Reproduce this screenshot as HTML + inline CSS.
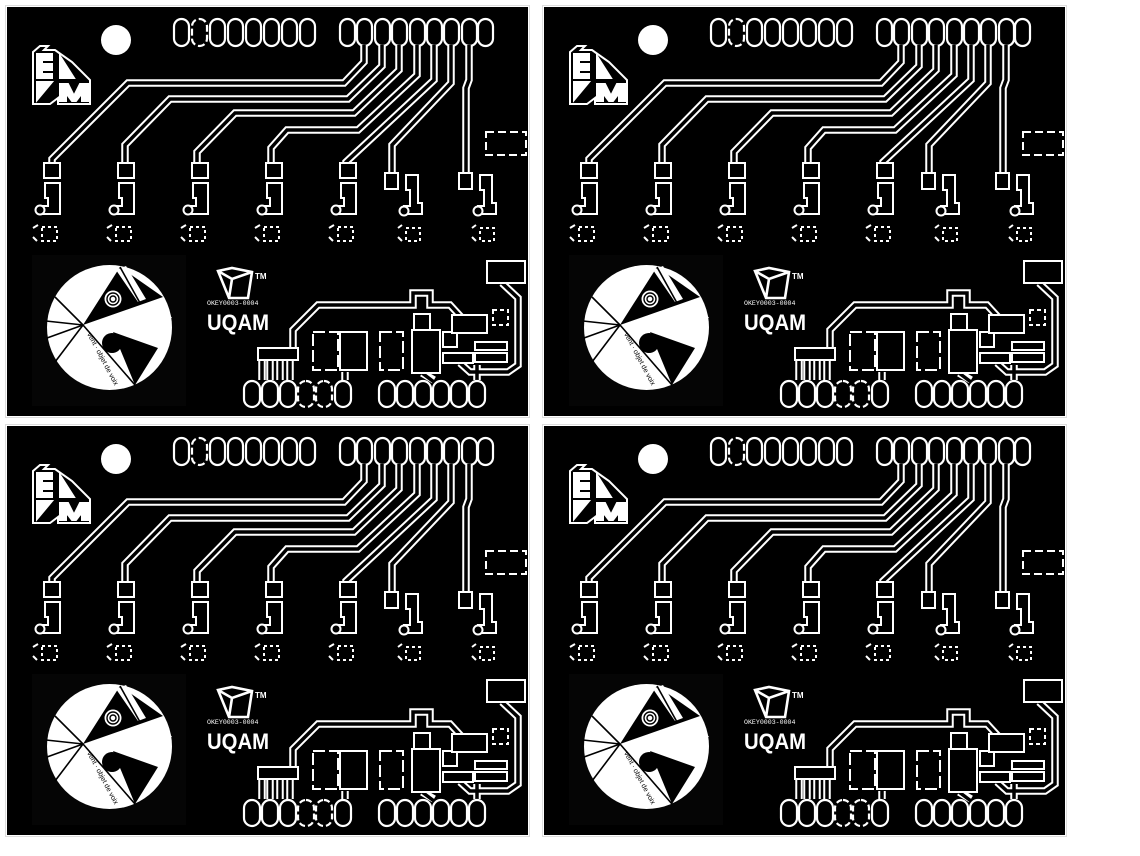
<!DOCTYPE html>
<html><head><meta charset="utf-8"><style>
html,body{margin:0;padding:0;background:#fff;}
svg{display:block;}
.t{font-family:"Liberation Sans",sans-serif;fill:#fff;}
</style></head><body>
<svg width="1140" height="856" viewBox="0 0 1140 856" xmlns="http://www.w3.org/2000/svg">
<defs>
<g id="P">
  <rect x="5.5" y="5.5" width="524" height="412" fill="none" stroke="#ddd" stroke-width="1"/>
  <rect x="7" y="7" width="521" height="409" fill="#000"/>
  <circle cx="116" cy="40" r="15" fill="#fff"/>
  <g fill="#000" stroke="#fff" stroke-width="2.2">
    <rect x="174" y="19" width="15" height="27" rx="7.5"/>
    <rect x="192" y="19" width="15" height="27" rx="7.5" stroke-dasharray="7 3"/>
    <rect x="210" y="19" width="15" height="27" rx="7.5"/>
    <rect x="228" y="19" width="15" height="27" rx="7.5"/>
    <rect x="246" y="19" width="15" height="27" rx="7.5"/>
    <rect x="264" y="19" width="15" height="27" rx="7.5"/>
    <rect x="282" y="19" width="15" height="27" rx="7.5"/>
    <rect x="300" y="19" width="15" height="27" rx="7.5"/>
    <rect x="340" y="19" width="15" height="27" rx="7.5"/>
    <rect x="357" y="19" width="15" height="27" rx="7.5"/>
    <rect x="375" y="19" width="15" height="27" rx="7.5"/>
    <rect x="392" y="19" width="15" height="27" rx="7.5"/>
    <rect x="410" y="19" width="15" height="27" rx="7.5"/>
    <rect x="427" y="19" width="15" height="27" rx="7.5"/>
    <rect x="444" y="19" width="15" height="27" rx="7.5"/>
    <rect x="462" y="19" width="15" height="27" rx="7.5"/>
    <rect x="478" y="19" width="15" height="27" rx="7.5"/>
  </g>
  <g fill="none" stroke-linejoin="miter">
    <g stroke="#fff" stroke-width="7.5">
      <path d="M364 45 V62 L344 83 H128 L52 159 V168"/>
      <path d="M382 45 V66 L348 99 H170 L125 145 V168"/>
      <path d="M399 45 V70 L354 113 H235 L197 152 V168"/>
      <path d="M417 45 V75 L358 130 H287 L271 148 V168"/>
      <path d="M434 45 V80 L346 162 V168"/>
      <path d="M451 45 V83 L392 145 V175"/>
      <path d="M469 45 V80 L466 88 V175"/>
      <path d="M293 352 V330 L318 305 H413 V293 H430 V305 H450 L462 318 H475"/>
      <path d="M502 283 L518 298 V365 L508 372 H470 L460 363"/>
      <path d="M262 360 V380 M270 360 V380 M280 360 V380 M290 360 V380"/>
      <path d="M345 372 V380 M422 373 L434 380 M477 365 V380"/>
    </g>
    <g stroke="#000" stroke-width="3.5">
      <path d="M364 45 V62 L344 83 H128 L52 159 V168"/>
      <path d="M382 45 V66 L348 99 H170 L125 145 V168"/>
      <path d="M399 45 V70 L354 113 H235 L197 152 V168"/>
      <path d="M417 45 V75 L358 130 H287 L271 148 V168"/>
      <path d="M434 45 V80 L346 162 V168"/>
      <path d="M451 45 V83 L392 145 V175"/>
      <path d="M469 45 V80 L466 88 V175"/>
      <path d="M293 352 V330 L318 305 H413 V293 H430 V305 H450 L462 318 H475"/>
      <path d="M502 283 L518 298 V365 L508 372 H470 L460 363"/>
      <path d="M262 360 V382 M270 360 V382 M280 360 V382 M290 360 V382"/>
      <path d="M345 370 V382 M422 373 L434 382 M477 363 V382"/>
    </g>
  </g>
  <g fill="#000" stroke="#fff" stroke-width="2">
    <g id="C">
      <rect x="44" y="163" width="16" height="15"/>
      <path d="M45 183 H60 V214 H42 L40 210 V206 H48 V198 H45 Z"/>
      <circle cx="40" cy="210" r="4.5"/>
      <rect x="42" y="227" width="15" height="14" stroke-dasharray="3 3"/>
      <path d="M33 228 L38 225 M33 237 L37 241"/>
    </g>
    <use href="#C" x="74"/>
    <use href="#C" x="148"/>
    <use href="#C" x="222"/>
    <use href="#C" x="296"/>
    <g id="D">
      <rect x="385" y="173" width="13" height="16"/>
      <path d="M406 175 H418 V203 H422 V214 H404 V206 H410 V190 H406 Z"/>
      <circle cx="404" cy="211" r="4.5"/>
      <rect x="406" y="228" width="14" height="13" stroke-dasharray="3 3"/>
      <path d="M398 228 L402 225 M398 237 L402 241"/>
    </g>
    <use href="#D" x="74"/>
    <rect x="486" y="132" width="40" height="23" stroke-dasharray="8 4"/>
    <rect x="487" y="261" width="38" height="22"/>
    <rect x="313" y="332" width="25" height="38" stroke-dasharray="12 4"/>
    <rect x="340" y="332" width="27" height="38"/>
    <rect x="380" y="332" width="23" height="38" stroke-dasharray="12 4"/>
    <rect x="412" y="330" width="28" height="43"/>
    <rect x="414" y="314" width="16" height="16"/>
    <rect x="443" y="332" width="14" height="15"/>
    <rect x="443" y="353" width="30" height="10"/>
    <rect x="452" y="315" width="35" height="18"/>
    <rect x="493" y="310" width="15" height="15" stroke-dasharray="4 3"/>
    <rect x="475" y="342" width="32" height="8"/>
    <rect x="475" y="353" width="32" height="9"/>
    <rect x="258" y="348" width="40" height="12"/>
  </g>
  <g fill="#000" stroke="#fff" stroke-width="2.2">
    <rect x="244" y="381" width="16" height="26" rx="8"/>
    <rect x="262" y="381" width="16" height="26" rx="8"/>
    <rect x="280" y="381" width="16" height="26" rx="8"/>
    <rect x="298" y="381" width="16" height="26" rx="8" stroke-dasharray="6 3"/>
    <rect x="316" y="381" width="16" height="26" rx="8" stroke-dasharray="6 3"/>
    <rect x="335" y="381" width="16" height="26" rx="8"/>
    <rect x="379" y="381" width="16" height="26" rx="8"/>
    <rect x="397" y="381" width="16" height="26" rx="8"/>
    <rect x="415" y="381" width="16" height="26" rx="8"/>
    <rect x="433" y="381" width="16" height="26" rx="8"/>
    <rect x="451" y="381" width="16" height="26" rx="8"/>
    <rect x="469" y="381" width="16" height="26" rx="8"/>
  </g>
  <g fill="none" stroke="#fff" stroke-width="2">
    <path d="M33 52 L40 46 H48 L44 50 H55 L72 62 L90 80 V104 H58 V98 L50 104 H33 Z"/>
    <path d="M37 54 H52 V60 H42 V64 H52 V70 H42 V74 H52 V78 H37 Z" fill="#fff"/>
    <path d="M60 56 L74 78 H60 Z" fill="#fff"/>
    <path d="M37 82 V100 L52 82 Z M60 84 H68 L74 96 L80 84 H88 V101 H82 V93 L76 101 H72 L66 93 V101 H60 Z" fill="#fff"/>
  </g>
  <rect x="32" y="255" width="154" height="151" fill="#050505"/>
  <circle cx="109.5" cy="327.5" r="62.5" fill="#fff"/>
  <polygon points="83,325 120,267 163,297" fill="#000"/>
  <polygon points="116,270 126,266 146,299 138,302" fill="#fff"/>
  <circle cx="113" cy="299" r="8.5" fill="#fff"/>
  <g fill="none" stroke="#000" stroke-width="1.4"><circle cx="113" cy="299" r="6"/><circle cx="113" cy="299" r="3"/></g>
  <polygon points="83,325 168,312 172,318 86,328" fill="#fff"/>
  <polygon points="113,332 158,348 135,385" fill="#000"/>
  <circle cx="112" cy="343" r="10" fill="#000"/>
  <g stroke="#000" stroke-width="1.6">
    <line x1="83" y1="325" x2="55" y2="297"/>
    <line x1="83" y1="325" x2="46" y2="321"/>
    <line x1="83" y1="325" x2="47" y2="338"/>
    <line x1="83" y1="325" x2="55" y2="362"/>
    <line x1="83" y1="325" x2="135" y2="385"/>
    <line x1="120" y1="267" x2="140" y2="303"/>
  </g>
  <g fill="none" stroke="#fff" stroke-width="2.6">
    <path d="M218 271 L232 268 L252 272 L248 298 H229 Z M218 271 L232 279 L252 272 M232 279 L229 298"/>
  </g>
</g>
</defs>
<use href="#P"/>
<use href="#P" x="537"/>
<use href="#P" y="419"/>
<use href="#P" x="537" y="419"/>
<g><text x="255" y="279" class="t" font-size="8" font-weight="bold">TM</text><text x="207" y="305" font-family="Liberation Mono,monospace" font-size="6.6" fill="#fff">OKEY0003-0004</text><text x="207" y="330" class="t" font-size="22" font-weight="bold" textLength="62" lengthAdjust="spacingAndGlyphs">UQAM</text><text font-family="Liberation Sans,sans-serif" font-size="7" fill="#000" transform="translate(87,334) rotate(62)">vent · objet de voix</text></g>
<g transform="translate(537,0)"><text x="255" y="279" class="t" font-size="8" font-weight="bold">TM</text><text x="207" y="305" font-family="Liberation Mono,monospace" font-size="6.6" fill="#fff">OKEY0003-0004</text><text x="207" y="330" class="t" font-size="22" font-weight="bold" textLength="62" lengthAdjust="spacingAndGlyphs">UQAM</text><text font-family="Liberation Sans,sans-serif" font-size="7" fill="#000" transform="translate(87,334) rotate(62)">vent · objet de voix</text></g>
<g transform="translate(0,419)"><text x="255" y="279" class="t" font-size="8" font-weight="bold">TM</text><text x="207" y="305" font-family="Liberation Mono,monospace" font-size="6.6" fill="#fff">OKEY0003-0004</text><text x="207" y="330" class="t" font-size="22" font-weight="bold" textLength="62" lengthAdjust="spacingAndGlyphs">UQAM</text><text font-family="Liberation Sans,sans-serif" font-size="7" fill="#000" transform="translate(87,334) rotate(62)">vent · objet de voix</text></g>
<g transform="translate(537,419)"><text x="255" y="279" class="t" font-size="8" font-weight="bold">TM</text><text x="207" y="305" font-family="Liberation Mono,monospace" font-size="6.6" fill="#fff">OKEY0003-0004</text><text x="207" y="330" class="t" font-size="22" font-weight="bold" textLength="62" lengthAdjust="spacingAndGlyphs">UQAM</text><text font-family="Liberation Sans,sans-serif" font-size="7" fill="#000" transform="translate(87,334) rotate(62)">vent · objet de voix</text></g>
</svg>
</body></html>
